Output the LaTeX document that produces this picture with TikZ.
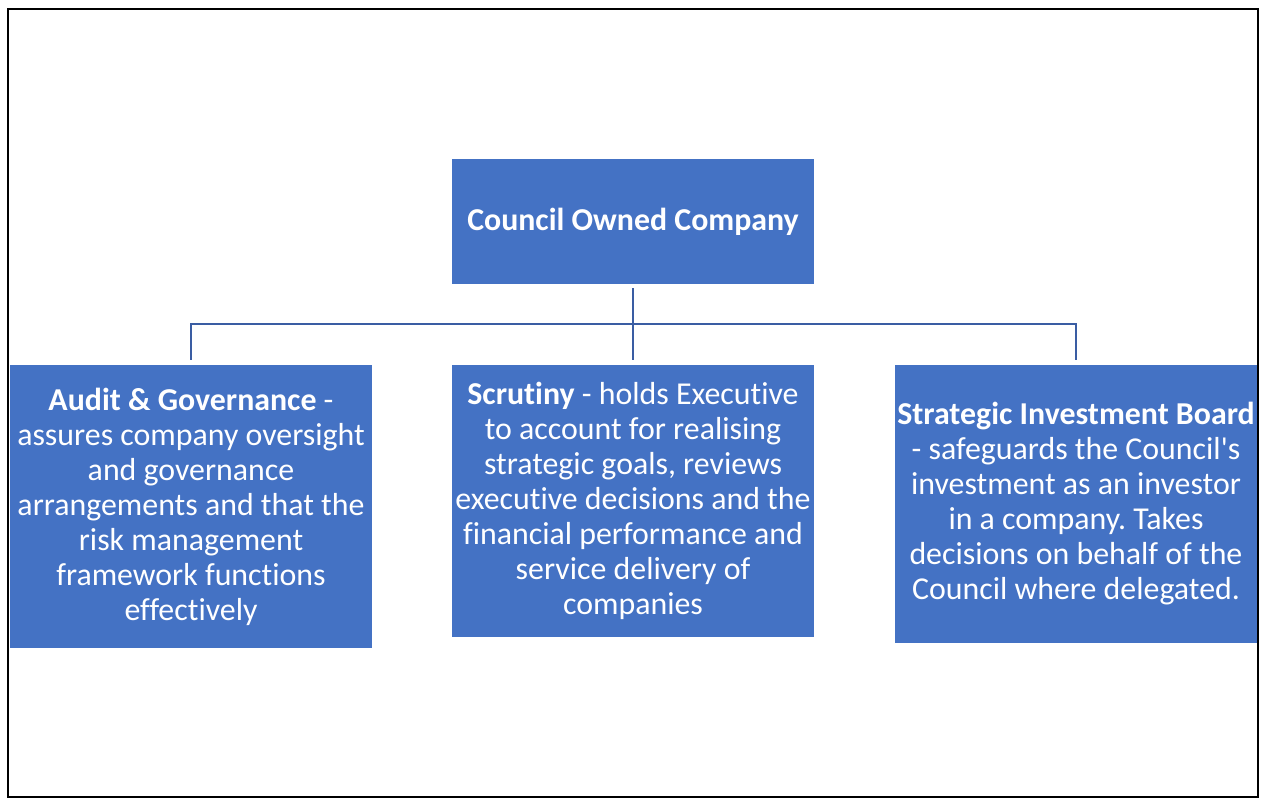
\documentclass[tikz,border=0pt]{standalone}
\usepackage{fontspec}
\setmainfont{Carlito}[Ligatures=NoCommon]
\usepackage{tikz}
\frenchspacing

\definecolor{boxblue}{HTML}{4472C4}
\definecolor{lineblue}{HTML}{3A5DA3}

\begin{document}
\begin{tikzpicture}[x=0.75pt,y=-0.75pt,
    orgbox/.style={fill=boxblue, text=white, minimum width=271.5pt, inner sep=0pt,
        align=center, font=\fontsize{23.9}{26.25}\selectfont},
    link/.style={draw=lineblue, line width=2pt}]
    % Fix the page size
    \useasboundingbox (0,0) rectangle (1272,798);

    % Draw the outer frame
    \draw[line width=1.5pt] (8,9) rectangle (1258,797);

    % Draw the boxes
    \node[orgbox, minimum height=93.75pt] (company) at (633,221.5) {\textbf{Council Owned Company}};
    \node[orgbox, minimum height=212.25pt] (audit) at (191,506.5)
        {\textbf{Audit \& Governance} -\\assures company oversight\\and governance\\arrangements and that the\\risk management\\framework functions\\effectively};
    \node[orgbox, minimum height=204pt] (scrutiny) at (633,501)
        {\textbf{Scrutiny} - holds Executive\\to account for realising\\strategic goals, reviews\\executive decisions and the\\financial performance and\\service delivery of\\companies};
    \node[orgbox, minimum height=208.5pt] (board) at (1076,504)
        {\textbf{Strategic Investment Board}\\- safeguards the Council\textquotesingle s\\investment as an investor\\in a company. Takes\\decisions on behalf of the\\Council where delegated.};

    % Draw the connectors
    \coordinate (bar) at (633,324);
    \draw[link] ([yshift=-3pt]company.south) -- ([yshift=3.75pt]scrutiny.north);
    \draw[link] ([yshift=3.75pt]audit.north) |- (bar) -| ([yshift=3.75pt]board.north);

\end{tikzpicture}
\end{document}
